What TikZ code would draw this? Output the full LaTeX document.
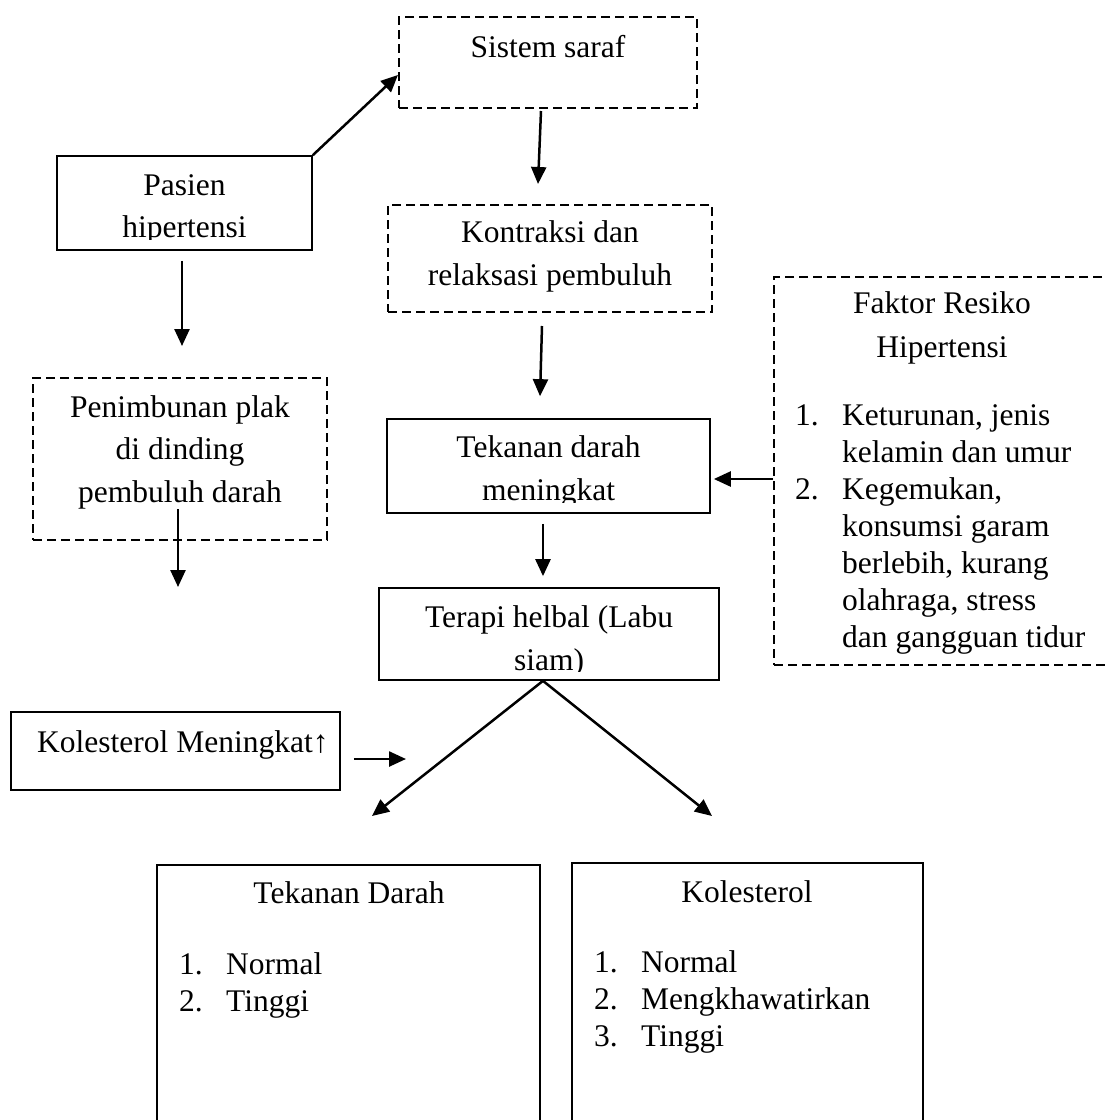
\documentclass[tikz,border=0pt]{standalone}
\usepackage{fontspec}
\setmainfont{Liberation Serif}
\usetikzlibrary{arrows.meta}

\newcommand{\bfnt}{\fontsize{31.5}{42.5}\selectfont}
\newcommand{\lfnt}{\fontsize{31.5}{37}\selectfont}
\newcommand{\itm}[1]{\makebox[47pt][l]{#1}}
\newcommand{\cont}{\hspace*{47pt}}

\tikzstyle{box} = [rectangle, draw, line width=1.7pt, inner sep=0pt]
\tikzstyle{dbox} = [box, line width=2pt, dash pattern=on 9pt off 5pt]

\begin{document}
\begin{tikzpicture}[x=1pt, y=-1pt, >={Triangle[length=17pt,width=15pt]}]
	\tikzstyle{txt}=[align=center, inner sep=0pt, anchor=base, font=\bfnt]
	\tikzstyle{lst}=[align=left, inner sep=0pt, anchor=base west, font=\lfnt]
	\tikzstyle{arr}=[->, line width=2.5pt]
\useasboundingbox (0,0) rectangle (1104,1120);
  \node[dbox, minimum width=298pt, minimum height=91pt] (sistem) at (548,62.5) {};
  \node[txt] (sistem-1) at (548,57) {Sistem saraf};
  \node[box, minimum width=255pt, minimum height=94pt] (pasien) at (184.5,203) {};
  \begin{scope}
    \clip (57,156) rectangle (312,239);
    \node[txt] (pasien-1) at (184.5,237.5) {Pasien\\hipertensi};
  \end{scope}
  \node[dbox, minimum width=324pt, minimum height=107pt] (kontraksi) at (550,258.5) {};
  \node[txt] (kontraksi-1) at (550,285) {Kontraksi dan\\relaksasi pembuluh};
  \node[dbox, minimum width=294pt, minimum height=162pt] (plak) at (180,459) {};
  \node[txt] (plak-1) at (180,502) {Penimbunan plak\\di dinding\\pembuluh darah};
  \node[box, minimum width=323pt, minimum height=94pt] (tekanan) at (548.5,466) {};
  \begin{scope}
    \clip (387,419) rectangle (710,502);
    \node[txt] (tekanan-1) at (548.5,500) {Tekanan darah\\meningkat};
  \end{scope}
  \node[box, minimum width=340pt, minimum height=92pt] (terapi) at (549,634) {};
  \begin{scope}
    \clip (379,588) rectangle (719,671);
    \node[txt] (terapi-1) at (549,670) {Terapi helbal (Labu\\siam)};
  \end{scope}
  \node[dbox, minimum width=341pt, minimum height=388pt] (faktor) at (944.5,471) {};
  \node[txt, font=\fontsize{31.5}{44}\selectfont] (faktor-1) at (942,357) {Faktor Resiko\\Hipertensi};
  \node[lst] (faktor-2) at (795,647) {\itm{1.}Keturunan, jenis\\\cont kelamin dan umur\\\itm{2.}Kegemukan,\\\cont konsumsi garam\\\cont berlebih, kurang\\\cont olahraga, stress\\\cont dan gangguan tidur};
  \node[box, minimum width=329pt, minimum height=78pt] (kolnaik) at (175.5,751) {};
  \node[lst] (kolnaik-1) at (37,752) {Kolesterol Meningkat↑};
  \node[box, minimum width=383pt, minimum height=265pt] (td) at (348.5,997.5) {};
  \node[txt] (td-1) at (349,903) {Tekanan Darah};
  \node[lst] (td-2) at (179,1011) {\itm{1.}Normal\\\itm{2.}Tinggi};
  \node[box, minimum width=351pt, minimum height=267pt] (kol) at (747.5,996.5) {};
  \node[txt] (kol-1) at (747,902) {Kolesterol};
  \node[lst] (kol-2) at (594,1046) {\itm{1.}Normal\\\itm{2.}Mengkhawatirkan\\\itm{3.}Tinggi};
  \coordinate (plak-end) at (178,587);
  \coordinate (kolnaik-end) at (406,759);
  \coordinate (td-end) at (372,816);
  \coordinate (kol-end) at (712,816);
\draw[arr] (pasien.north east) -- ([yshift=-12.5pt]sistem.west);
\draw[arr] ([xshift=-7pt,yshift=-2pt]sistem.south) -- ([xshift=-12pt,yshift=20pt]kontraksi.north);
\draw[arr] ([xshift=-8pt,yshift=-13pt]kontraksi.south) -- ([xshift=-8.5pt,yshift=22pt]tekanan.north);
\draw[arr] ([xshift=-2.5pt,yshift=-10pt]pasien.south) -- ([xshift=2pt,yshift=31pt]plak.north);
\draw[arr] ([xshift=-2pt,yshift=32pt]plak.south) -- (plak-end);
\draw[arr] ([xshift=-5.5pt,yshift=-10pt]tekanan.south) -- ([xshift=-6pt,yshift=11pt]terapi.north);
\draw[arr] ([yshift=-8pt]faktor.west) -- ([xshift=3pt,yshift=-13pt]tekanan.east);
\draw[arr] ([xshift=13pt,yshift=-8pt]kolnaik.east) -- (kolnaik-end);
\draw[arr] ([xshift=-6pt]terapi.south) -- (td-end);
\draw[arr] ([xshift=-6pt]terapi.south) -- (kol-end);
\end{tikzpicture}
\end{document}
